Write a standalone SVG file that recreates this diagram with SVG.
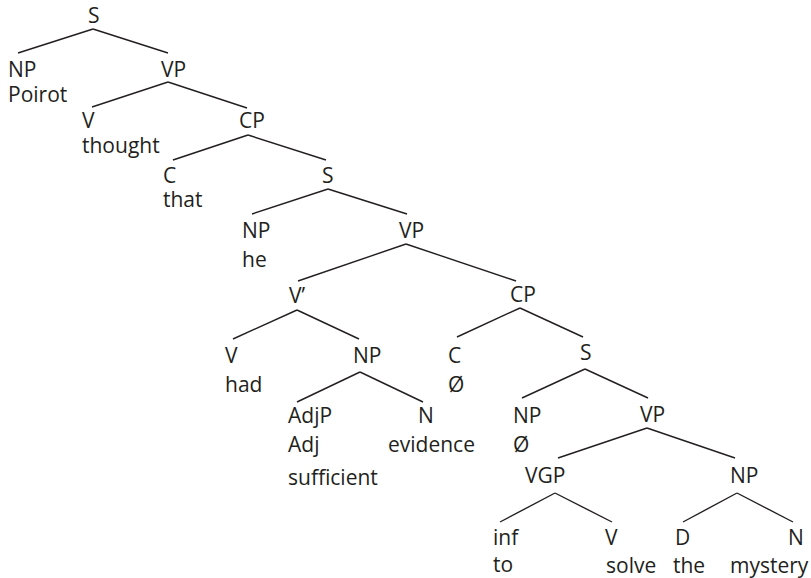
<svg xmlns="http://www.w3.org/2000/svg" width="811" height="578" viewBox="0 0 811 578">
<style>
text{font-family:"Open Sans","Noto Sans","Liberation Sans",sans-serif;font-size:21px;fill:#231f20}
line{stroke:#231f20;stroke-width:1.4}
</style>
<rect width="811" height="578" fill="#fff"/>
<g id="connectors">
<line x1="93" y1="29" x2="18" y2="53"/><line x1="93" y1="29" x2="168" y2="53"/>
<line x1="168" y1="82" x2="92" y2="107"/><line x1="168" y1="82" x2="247" y2="108"/>
<line x1="248" y1="135" x2="173" y2="160"/><line x1="248" y1="135" x2="326" y2="160"/>
<line x1="328" y1="189" x2="252" y2="214"/><line x1="328" y1="189" x2="407" y2="214"/>
<line x1="406" y1="244" x2="298" y2="281"/><line x1="406" y1="244" x2="516" y2="281"/>
<line x1="297" y1="310" x2="233" y2="339"/><line x1="297" y1="310" x2="359" y2="339"/>
<line x1="520" y1="308" x2="457" y2="337"/><line x1="520" y1="308" x2="583" y2="337"/>
<line x1="360" y1="372" x2="297" y2="402"/><line x1="360" y1="372" x2="423" y2="402"/>
<line x1="585" y1="369" x2="522" y2="398"/><line x1="585" y1="369" x2="648" y2="398"/>
<line x1="647" y1="428" x2="558" y2="458"/><line x1="647" y1="428" x2="735" y2="458"/>
<line x1="555" y1="493" x2="500" y2="522"/><line x1="555" y1="493" x2="612" y2="522"/>
<line x1="737" y1="493" x2="683" y2="522"/><line x1="737" y1="493" x2="793" y2="522"/>
</g>
<g id="n-S1"><text x="88" y="23">S</text></g>
<g id="n-NP1"><text x="8" y="77">NP</text><text x="8" y="102">Poirot</text></g>
<g id="n-VP1"><text x="161" y="77">VP</text></g>
<g id="n-V1"><text x="82" y="128">V</text><text x="82" y="153">thought</text></g>
<g id="n-CP1"><text x="239" y="128">CP</text></g>
<g id="n-C1"><text x="163" y="183">C</text><text x="163" y="207">that</text></g>
<g id="n-S2"><text x="322" y="183">S</text></g>
<g id="n-NP2"><text x="242" y="238">NP</text><text x="242" y="267">he</text></g>
<g id="n-VP2"><text x="399" y="238">VP</text></g>
<g id="n-Vbar"><text x="289" y="303">V’</text></g>
<g id="n-CP2"><text x="510" y="302">CP</text></g>
<g id="n-V2"><text x="225" y="363">V</text><text x="225" y="392">had</text></g>
<g id="n-NP3"><text x="353" y="363">NP</text></g>
<g id="n-C2"><text x="448" y="363">C</text><text x="448" y="392">Ø</text></g>
<g id="n-S3"><text x="580" y="360">S</text></g>
<g id="n-AdjP"><text x="288" y="423">AdjP</text><text x="288" y="452">Adj</text><text x="288" y="485">sufficient</text></g>
<g id="n-N1"><text x="418" y="423">N</text><text x="388" y="452">evidence</text></g>
<g id="n-NP4"><text x="513" y="423">NP</text><text x="513" y="452">Ø</text></g>
<g id="n-VP3"><text x="640" y="422">VP</text></g>
<g id="n-VGP"><text x="525" y="483">VGP</text></g>
<g id="n-NP5"><text x="730" y="483">NP</text></g>
<g id="n-inf"><text x="493" y="545">inf</text><text x="493" y="572">to</text></g>
<g id="n-V3"><text x="605" y="545">V</text><text x="606" y="573">solve</text></g>
<g id="n-D"><text x="675" y="545">D</text><text x="673" y="573">the</text></g>
<g id="n-N2"><text x="788" y="545">N</text><text x="730" y="573">mystery</text></g>
</svg>
